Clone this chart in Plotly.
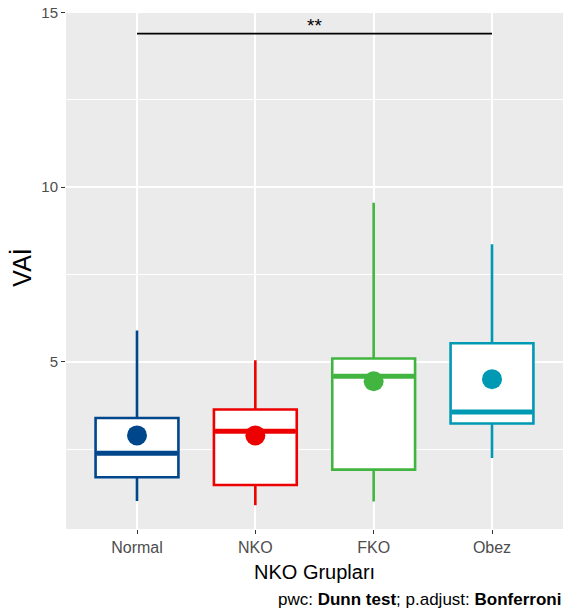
import plotly.graph_objects as go

groups = ["Normal", "NKO", "FKO", "Obez"]
colors = ["#00468B", "#ED0000", "#42B540", "#0099B4"]
lower_whisker = [1.01, 0.89, 1.00, 2.24]
q1 = [1.69, 1.47, 1.91, 3.23]
median = [2.38, 3.01, 4.58, 3.56]
q3 = [3.39, 3.63, 5.09, 5.53]
upper_whisker = [5.89, 5.04, 9.55, 8.36]
means = [2.89, 2.89, 4.44, 4.50]
bracket_y = 14.39
bracket_label = "**"
y_ticks = [5, 10, 15]

BW = 0.7
fig = go.Figure()
for i, g in enumerate(groups):
    fig.add_trace(go.Box(
        x=[i], q1=[q1[i]], median=[median[i]], q3=[q3[i]],
        lowerfence=[lower_whisker[i]], upperfence=[upper_whisker[i]],
        width=BW, whiskerwidth=0, fillcolor="white",
        line=dict(color=colors[i], width=2.6), boxpoints=False,
        hoverinfo="skip", showlegend=False, name=g))
    fig.add_trace(go.Scatter(
        x=[i - BW / 2 + 0.01, i + BW / 2 - 0.01], y=[median[i], median[i]],
        mode="lines", line=dict(color=colors[i], width=5),
        hoverinfo="skip", showlegend=False))
    fig.add_trace(go.Scatter(
        x=[i], y=[means[i]], mode="markers",
        marker=dict(color=colors[i], size=20, line=dict(width=0)),
        hoverinfo="skip", showlegend=False))

# significance bracket between Normal and Obez
fig.add_trace(go.Scatter(
    x=[0, 3], y=[bracket_y, bracket_y], mode="lines",
    line=dict(color="black", width=1.8), hoverinfo="skip", showlegend=False))
fig.add_annotation(x=1.5, y=bracket_y, text=bracket_label, showarrow=False,
                   yanchor="bottom", yshift=-4,
                   font=dict(family="Liberation Sans", size=19, color="black"))

fig.update_layout(
    width=568, height=615,
    margin=dict(l=66, r=5, t=11, b=86),
    paper_bgcolor="white", plot_bgcolor="#EBEBEB",
    font=dict(family="Liberation Sans", color="#4D4D4D"),
    xaxis=dict(range=[-0.6, 3.6], tickvals=list(range(len(groups))),
               ticktext=groups, showgrid=True, gridcolor="white", gridwidth=2,
               zeroline=False, ticks="outside", ticklen=4, tickcolor="#333333",
               tickwidth=1.2, tickfont=dict(size=16, color="#4D4D4D")),
    yaxis=dict(range=[0.21, 15.04], tickvals=y_ticks, showgrid=True,
               gridcolor="white", gridwidth=2, zeroline=False,
               ticks="outside", ticklen=4, tickcolor="#333333", tickwidth=1.2,
               tickfont=dict(size=15, color="#4D4D4D"),
               minor=dict(tickvals=[2.5, 7.5, 12.5], showgrid=True,
                          gridcolor="white", gridwidth=1, ticks="")),
)

fig.add_annotation(text="VAİ", xref="paper", yref="paper", x=-0.088, y=0.505,
                   textangle=-90, showarrow=False, xanchor="center", yanchor="middle",
                   font=dict(family="Liberation Sans", size=25, color="black"))
fig.add_annotation(text="NKO Grupları", xref="paper", yref="paper", x=0.5, y=-0.083,
                   showarrow=False, xanchor="center", yanchor="middle",
                   font=dict(family="Liberation Sans", size=20, color="black"))
fig.add_annotation(text="pwc: <b>Dunn test</b>; p.adjust: <b>Bonferroni</b>",
                   xref="paper", yref="paper", x=1.0, y=-0.137,
                   showarrow=False, xanchor="right", yanchor="middle",
                   font=dict(family="Liberation Sans", size=17, color="black"))

fig.write_html("out.html")
